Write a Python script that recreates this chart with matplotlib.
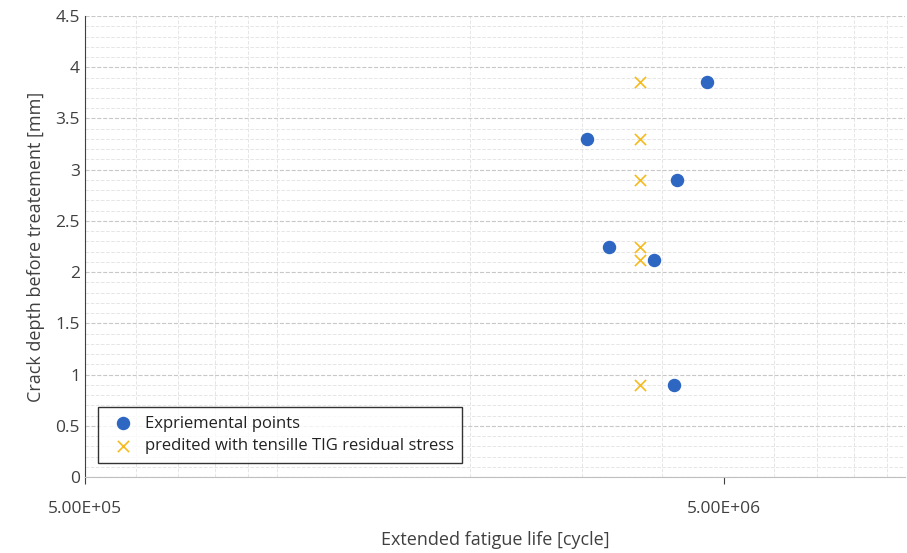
import matplotlib
matplotlib.use("Agg")
import matplotlib.pyplot as plt
from matplotlib.ticker import FixedLocator, NullFormatter, LogLocator
import numpy as np

exp_life = [3.05e6, 3.30e6, 3.88e6, 4.22e6, 4.18e6, 4.70e6]
exp_depth = [3.30, 2.25, 2.12, 2.90, 0.90, 3.86]
pred_life = [3.70e6, 3.70e6, 3.70e6, 3.70e6, 3.70e6, 3.70e6]
pred_depth = [3.86, 3.30, 2.90, 2.25, 2.12, 0.90]

plt.rcParams['font.family'] = ['Open Sans', 'DejaVu Sans']
fig = plt.figure(figsize=(9.07, 5.53), dpi=100)
ax = fig.add_axes([0.0937, 0.1374, 0.904, 0.8336])
ax.set_xscale('log')
ax.set_xlim(5e5, 9.6e6)
ax.set_ylim(0, 4.5)

ax.xaxis.set_major_locator(FixedLocator([5e5, 5e6]))
ax.set_xticklabels(['5.00E+05', '5.00E+06'])
ax.xaxis.set_minor_locator(LogLocator(base=10, subs=np.arange(1, 10)))
ax.xaxis.set_minor_formatter(NullFormatter())
ax.set_yticks(np.arange(0, 4.51, 0.5))
ax.set_yticklabels(['0', '0.5', '1', '1.5', '2', '2.5', '3', '3.5', '4', '4.5'])
ax.set_yticks(np.arange(0, 4.51, 0.1), minor=True)

ax.grid(True, which='major', axis='y', color='#c8c8c8', linestyle='--', linewidth=0.8)
ax.grid(True, which='minor', axis='y', color='#e6e6e6', linestyle='--', linewidth=0.7)
ax.grid(True, which='minor', axis='x', color='#e6e6e6', linestyle='--', linewidth=0.7)
ax.set_axisbelow(True)

for s in ['top', 'right']:
    ax.spines[s].set_visible(False)
ax.spines['bottom'].set_color('#bfbfbf')
ax.spines['left'].set_color('#404040')
ax.tick_params(which='both', length=0, labelsize=12.5, colors='#404040')
ax.tick_params(axis='x', which='major', length=5, color='#404040', pad=12)

ax.scatter(exp_life, exp_depth, s=75, color='#2e67c2', zorder=3, label='Expriemental points')
ax.scatter(pred_life, pred_depth, s=65, marker='x', color='#f5bb1e', linewidths=1.2, zorder=3,
           label='predited with tensille TIG residual stress')

ax.set_xlabel('Extended fatigue life [cycle]', fontsize=13, color='#404040', labelpad=10)
ax.set_ylabel('Crack depth before treatement [mm]', fontsize=13, color='#404040', labelpad=8)

leg = ax.legend(loc='lower left', bbox_to_anchor=(0.01, 0.02), fontsize=12, frameon=True,
                fancybox=False, edgecolor='black', handletextpad=0.3, borderaxespad=0.3,
                labelspacing=0.4, borderpad=0.5)
leg.get_frame().set_linewidth(1.0)
for t in leg.get_texts():
    t.set_color('#222222')
fig.savefig('out.png', dpi=100)
